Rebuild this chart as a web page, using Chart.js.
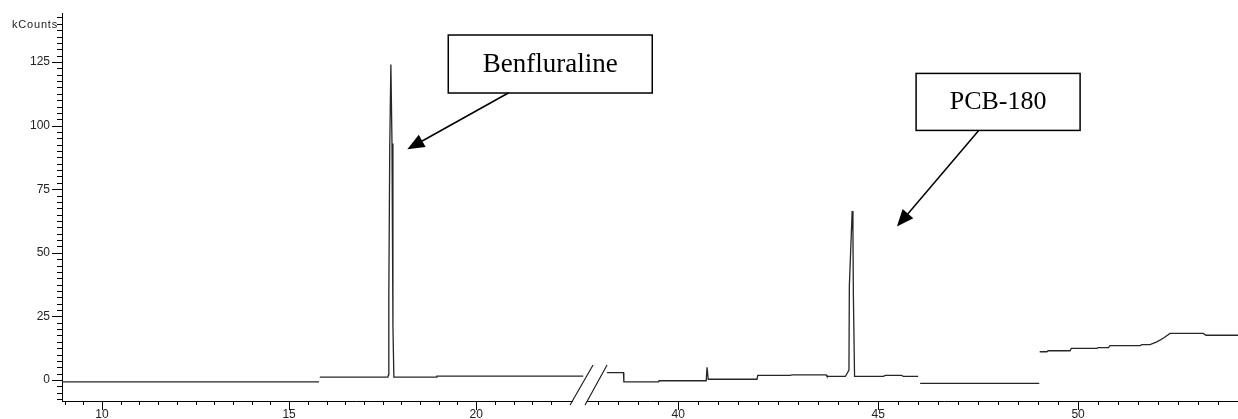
<!DOCTYPE html>
<html lang="en">
<head>
    <meta charset="UTF-8">
    <title>Chromatogram</title>
    <script src="https://cdn.jsdelivr.net/npm/chart.js"></script>
    <style>
        body { margin: 0; background: #fff; }
        #wrap { width: 1238px; height: 419px; position: relative; }
    </style>
</head>
<body>
<div id="wrap"><canvas id="chartCanvas"></canvas></div>
<script>
    // Retention time (min) and signal (kCounts), before the axis break
    const rtLeft = [8.93, 15.80, null, 15.82, 17.64, 17.655, 17.665, 17.69, 17.72, 17.75, 17.775, 17.80, 18.93, 18.95, 22.86];
    const countsLeft = [-0.7, -0.7, null, 1.1, 1.1, 2.0, 33, 92, 124, 93, 21, 1.1, 1.1, 1.5, 1.5];

    // after the axis break
    const rtRight = [38.22, 38.63, 38.64, 39.51, 39.52, 40.70, 40.72, 40.75, 41.97, 41.99, 42.80, 42.85, 43.70, 43.72,
        44.18, 44.27, 44.28, 44.33, 44.35, 44.37, 44.38, 44.41, 45.13, 45.18, 45.59, 45.63, 46.00, null,
        46.05, 49.03, null,
        49.04, 49.22, 49.25, 49.80, 49.83, 50.47, 50.50, 50.76, 50.80, 51.55, 51.60, 51.80, 51.97, 52.13, 52.30, 53.13, 53.20, 54.00];
    const countsRight = [2.9, 2.9, -0.7, -0.7, -0.3, -0.3, 5.0, 0.3, 0.3, 1.8, 1.8, 2.0, 2.0, 1.4,
        1.4, 3.9, 37, 58, 66.4, 58, 34, 1.4, 1.4, 1.8, 1.8, 1.4, 1.4, null,
        -1.3, -1.3, null,
        11.1, 11.1, 11.5, 11.5, 12.4, 12.4, 12.7, 12.7, 13.5, 13.5, 13.9, 13.9, 15.0, 16.4, 18.3, 18.3, 17.6, 17.6];

    // axis ticks
    const xMajor = [10, 15, 20, 40, 45, 50];
    const yMajor = [0, 25, 50, 75, 100, 125];

    // peak labels: text, box centre (min, kCounts), arrow start and tip
    const notes = [
        { text: 'Benfluraline', at: [21.98, 124.2], w: 204, h: 58, size: 27, from: [20.87, 112.9], to: [18.16, 90.7] },
        { text: 'PCB-180', at: [48.0, 109.3], w: 164, h: 57, size: 26, from: [47.51, 98.0], to: [45.47, 60.3] }
    ];

    const breakAt = 22.99;

    // broken time axis: right part is shifted next to the left part
    function toU(t) {
        return t <= 30 ? t : 25.4 + (t - 40) * 40 / 37.43;
    }

    function points(rt, counts) {
        return rt.map((t, i) => ({ x: toU(t === null ? rt[i - 1] : t), y: counts[i] }));
    }

    const xTicks = [];
    for (let t = 9; t <= 22; t += 0.5) xTicks.push(t);
    for (let t = 38; t <= 54; t += 0.5) xTicks.push(t);
    const yTicks = [];
    for (let v = -7.5; v <= 142.5; v += 2.5) yTicks.push(v);

    const lineStyle = { borderColor: '#262626', borderWidth: 1.3, pointRadius: 0, tension: 0, spanGaps: false, fill: false };

    const decorations = {
        id: 'decorations',
        afterDraw(chart) {
            const ctx = chart.ctx;
            const xs = chart.scales.x, ys = chart.scales.y;
            const area = chart.chartArea;
            ctx.save();

            // tick marks
            ctx.strokeStyle = '#000';
            ctx.lineWidth = 1;
            ctx.beginPath();
            xs.ticks.forEach(tk => {
                const px = Math.round(xs.getPixelForValue(tk.value)) + 0.5;
                const len = xMajor.includes(tk.real) ? 9 : 4;
                ctx.moveTo(px, area.bottom);
                ctx.lineTo(px, area.bottom + len);
            });
            ys.ticks.forEach(tk => {
                const py = Math.round(ys.getPixelForValue(tk.value)) + 0.5;
                const len = yMajor.includes(tk.value) ? 10 : 5;
                ctx.moveTo(area.left, py);
                ctx.lineTo(area.left - len, py);
            });
            ctx.stroke();

            // axis break
            const cx = xs.getPixelForValue(toU(breakAt));
            ctx.fillStyle = '#fff';
            ctx.beginPath();
            ctx.moveTo(cx - 17, area.bottom + 4);
            ctx.lineTo(cx + 5, area.bottom - 36);
            ctx.lineTo(cx + 18, area.bottom - 36);
            ctx.lineTo(cx - 3, area.bottom + 4);
            ctx.closePath();
            ctx.fill();
            ctx.strokeStyle = '#222';
            ctx.lineWidth = 1.2;
            ctx.beginPath();
            ctx.moveTo(cx - 18, area.bottom + 4);
            ctx.lineTo(cx + 5, area.bottom - 36);
            ctx.moveTo(cx - 3, area.bottom + 4);
            ctx.lineTo(cx + 19, area.bottom - 36);
            ctx.stroke();

            // y axis unit
            ctx.fillStyle = '#222';
            ctx.font = '11px "Liberation Sans", Arial, sans-serif';
            ctx.letterSpacing = '0.8px';
            ctx.textAlign = 'right';
            ctx.textBaseline = 'middle';
            ctx.fillText('kCounts', area.left - 4, ys.getPixelForValue(139.5));
            ctx.letterSpacing = '0px';

            // peak labels with arrows
            notes.forEach(n => {
                const bx = xs.getPixelForValue(toU(n.at[0]));
                const by = ys.getPixelForValue(n.at[1]);
                ctx.fillStyle = '#fff';
                ctx.fillRect(bx - n.w / 2, by - n.h / 2, n.w, n.h);
                ctx.strokeStyle = '#000';
                ctx.lineWidth = 1.5;
                ctx.strokeRect(bx - n.w / 2, by - n.h / 2, n.w, n.h);
                ctx.fillStyle = '#000';
                ctx.font = n.size + 'px "Liberation Serif", "Times New Roman", serif';
                ctx.textAlign = 'center';
                ctx.textBaseline = 'alphabetic';
                ctx.fillText(n.text, bx, by + 7.5);

                const x1 = xs.getPixelForValue(toU(n.from[0])), y1 = ys.getPixelForValue(n.from[1]);
                const x2 = xs.getPixelForValue(toU(n.to[0])), y2 = ys.getPixelForValue(n.to[1]);
                const ang = Math.atan2(y2 - y1, x2 - x1);
                const hl = 17, hw = 7;
                const bxh = x2 - hl * Math.cos(ang), byh = y2 - hl * Math.sin(ang);
                ctx.beginPath();
                ctx.moveTo(x1, y1);
                ctx.lineTo(bxh, byh);
                ctx.stroke();
                ctx.beginPath();
                ctx.moveTo(x2, y2);
                ctx.lineTo(bxh + hw * Math.sin(ang), byh - hw * Math.cos(ang));
                ctx.lineTo(bxh - hw * Math.sin(ang), byh + hw * Math.cos(ang));
                ctx.closePath();
                ctx.fill();
            });
            ctx.restore();
        }
    };

    const tickFont = { family: '"Liberation Sans", Arial, sans-serif', size: 12 };

    new Chart(document.getElementById('chartCanvas'), {
        type: 'line',
        data: {
            datasets: [
                Object.assign({ data: points(rtLeft, countsLeft) }, lineStyle),
                Object.assign({ data: points(rtRight, countsRight) }, lineStyle)
            ]
        },
        options: {
            responsive: true,
            maintainAspectRatio: false,
            animation: false,
            layout: { padding: { top: 13, left: 0, right: 0, bottom: 0 } },
            plugins: { legend: { display: false }, tooltip: { enabled: false } },
            scales: {
                x: {
                    type: 'linear',
                    min: toU(8.93),
                    max: toU(54.0),
                    grid: { display: false, drawTicks: false },
                    border: { display: true, color: '#000', width: 1 },
                    afterBuildTicks: s => { s.ticks = xTicks.map(t => ({ value: toU(t), real: t })); },
                    afterFit: s => { s.height = 18; s.paddingLeft = 0; s.paddingRight = 0; },
                    ticks: {
                        autoSkip: false,
                        maxRotation: 0,
                        padding: 6,
                        color: '#222',
                        font: tickFont,
                        callback: (v, i, ticks) => xMajor.includes(ticks[i].real) ? String(ticks[i].real) : ''
                    }
                },
                y: {
                    min: -8.25,
                    max: 144.25,
                    grid: { display: false, drawTicks: false },
                    border: { display: true, color: '#000', width: 1 },
                    afterBuildTicks: s => { s.ticks = yTicks.map(v => ({ value: v })); },
                    afterFit: s => { s.width = 62; s.paddingTop = 0; s.paddingBottom = 0; },
                    ticks: {
                        autoSkip: false,
                        padding: 12,
                        color: '#222',
                        font: tickFont,
                        callback: v => yMajor.includes(v) ? String(v) : ''
                    }
                }
            }
        },
        plugins: [decorations]
    });
</script>
</body>
</html>
